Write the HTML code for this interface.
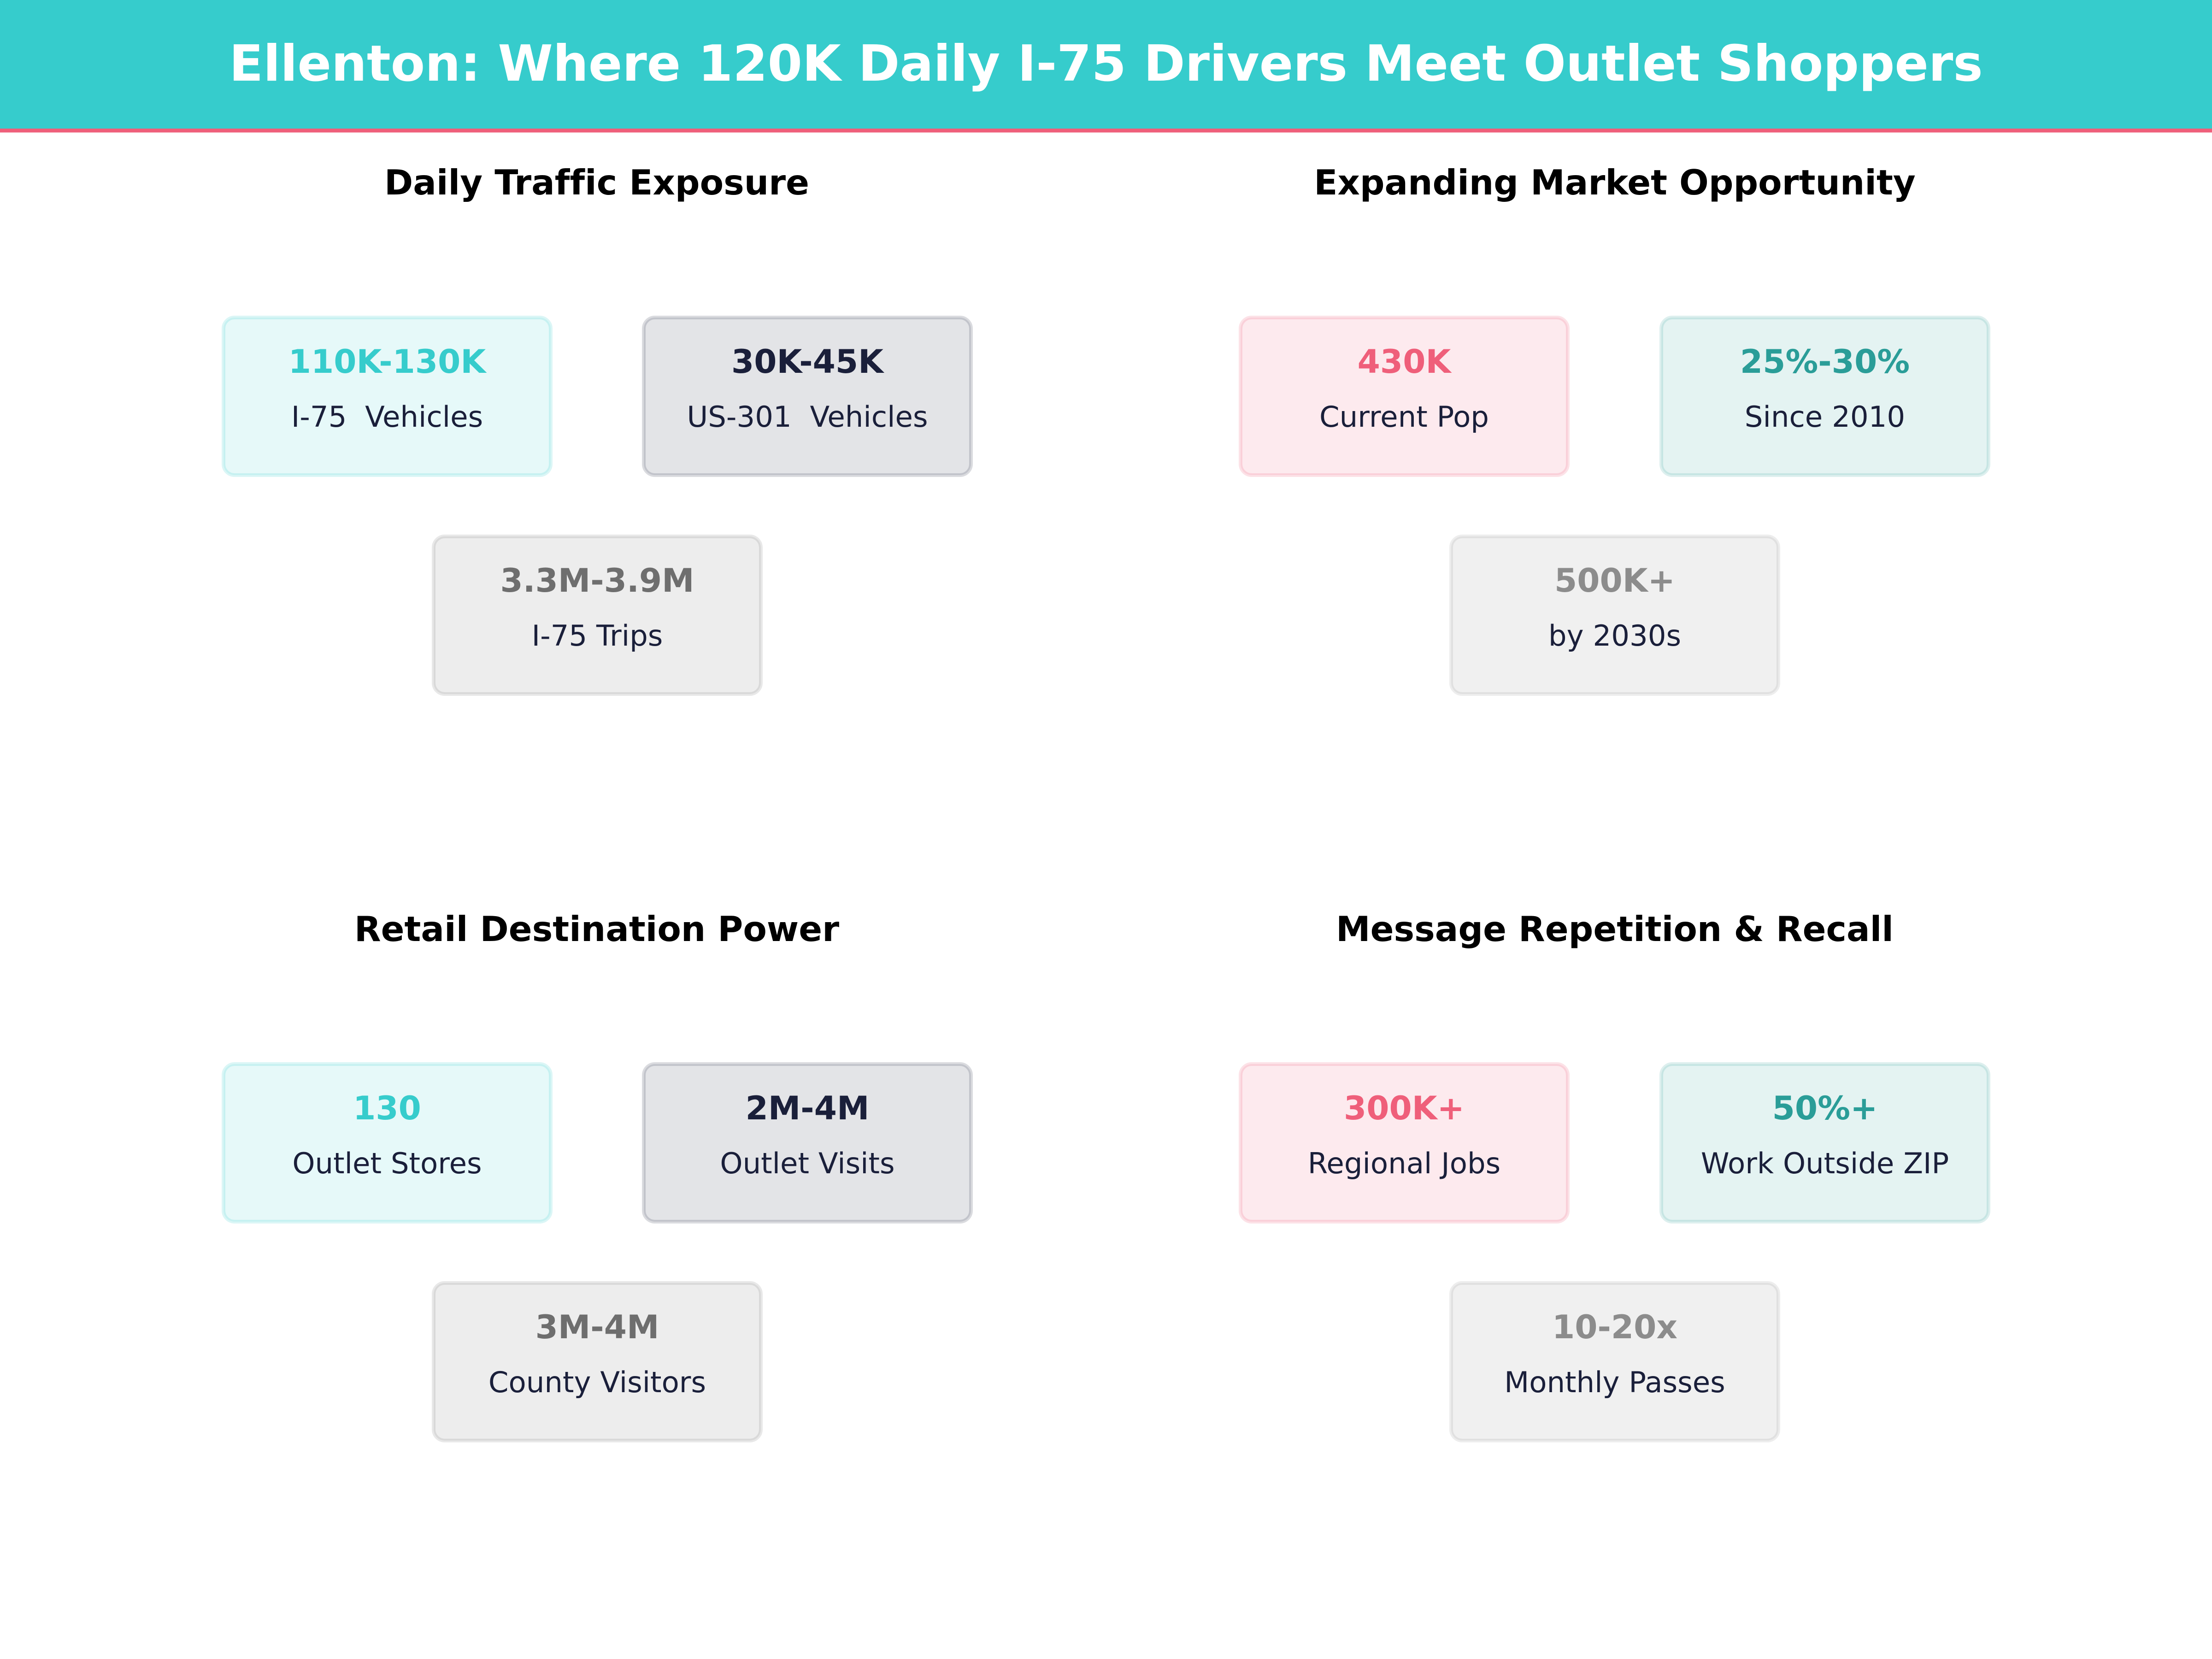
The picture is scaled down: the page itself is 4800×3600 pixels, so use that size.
<!DOCTYPE html>
<html>
<head>
<meta charset="utf-8">
<style>
  html, body { margin:0; padding:0; background:#ffffff; }
  svg { display:block; }
  text { font-family: "DejaVu Sans", "Liberation Sans", sans-serif; white-space: pre; font-variant-ligatures: none; font-feature-settings: "liga" 0, "clig" 0; }
  .t { font-weight:bold; font-size:75px; fill:#000000; }
  .v { font-weight:bold; font-size:70.8px; }
  .l { font-size:62.5px; fill:#1A1F3A; }
</style>
</head>
<body>
<svg width="4800" height="3600" viewBox="0 0 4800 3600" xmlns="http://www.w3.org/2000/svg">
  <rect x="0" y="0" width="4800" height="3600" fill="#ffffff"/>
  <!-- header -->
  <rect x="0" y="0" width="4800" height="279" fill="#36CCCC"/>
  <rect x="0" y="279" width="4800" height="8.5" fill="#EF5F7A"/>
  <text x="2400" y="175" text-anchor="middle" font-weight="bold" font-size="108.3" fill="#ffffff">Ellenton: Where 120K Daily I-75 Drivers Meet Outlet Shoppers</text>

  <!-- panel titles -->
  <text class="t" x="1295" y="422" text-anchor="middle">Daily Traffic Exposure</text>
  <text class="t" x="3504" y="422" text-anchor="middle">Expanding Market Opportunity</text>
  <text class="t" x="1295" y="2042" text-anchor="middle">Retail Destination Power</text>
  <text class="t" x="3504" y="2042" text-anchor="middle">Message Repetition &amp; Recall</text>

  <!-- TOP LEFT -->
  <g>
    <rect x="485" y="689" width="710" height="342" rx="24" ry="24" fill="#36CCCC" fill-opacity="0.125" stroke="#36CCCC" stroke-opacity="0.18" stroke-width="8"/>
    <text class="v" x="840" y="809" text-anchor="middle" fill="#36CCCC">110K-130K</text>
    <text class="l" x="840" y="926" text-anchor="middle">I-75  Vehicles</text>

    <rect x="1397" y="689" width="710" height="342" rx="24" ry="24" fill="#1A1F3A" fill-opacity="0.12" stroke="#1A1F3A" stroke-opacity="0.16" stroke-width="8"/>
    <text class="v" x="1752" y="809" text-anchor="middle" fill="#1A1F3A">30K-45K</text>
    <text class="l" x="1752" y="926" text-anchor="middle">US-301  Vehicles</text>

    <rect x="941" y="1164" width="710" height="342" rx="24" ry="24" fill="#6E6E6E" fill-opacity="0.12" stroke="#6E6E6E" stroke-opacity="0.16" stroke-width="8"/>
    <text class="v" x="1296" y="1284" text-anchor="middle" fill="#6E6E6E">3.3M-3.9M</text>
    <text class="l" x="1296" y="1401" text-anchor="middle">I-75 Trips</text>
  </g>

  <!-- TOP RIGHT -->
  <g>
    <rect x="2692" y="689" width="710" height="342" rx="24" ry="24" fill="#EF5F7A" fill-opacity="0.13" stroke="#EF5F7A" stroke-opacity="0.18" stroke-width="8"/>
    <text class="v" x="3047" y="809" text-anchor="middle" fill="#EF5F7A">430K</text>
    <text class="l" x="3047" y="926" text-anchor="middle">Current Pop</text>

    <rect x="3605" y="689" width="710" height="342" rx="24" ry="24" fill="#2A9D98" fill-opacity="0.125" stroke="#2A9D98" stroke-opacity="0.16" stroke-width="8"/>
    <text class="v" x="3960" y="809" text-anchor="middle" fill="#2A9D98">25%-30%</text>
    <text class="l" x="3960" y="926" text-anchor="middle">Since 2010</text>

    <rect x="3149" y="1164" width="710" height="342" rx="24" ry="24" fill="#8C8C8C" fill-opacity="0.13" stroke="#8C8C8C" stroke-opacity="0.16" stroke-width="8"/>
    <text class="v" x="3504" y="1284" text-anchor="middle" fill="#8C8C8C">500K+</text>
    <text class="l" x="3504" y="1401" text-anchor="middle">by 2030s</text>
  </g>

  <!-- BOTTOM LEFT -->
  <g>
    <rect x="485" y="2309" width="710" height="342" rx="24" ry="24" fill="#36CCCC" fill-opacity="0.125" stroke="#36CCCC" stroke-opacity="0.18" stroke-width="8"/>
    <text class="v" x="840" y="2429" text-anchor="middle" fill="#36CCCC">130</text>
    <text class="l" x="840" y="2546" text-anchor="middle">Outlet Stores</text>

    <rect x="1397" y="2309" width="710" height="342" rx="24" ry="24" fill="#1A1F3A" fill-opacity="0.12" stroke="#1A1F3A" stroke-opacity="0.16" stroke-width="8"/>
    <text class="v" x="1752" y="2429" text-anchor="middle" fill="#1A1F3A">2M-4M</text>
    <text class="l" x="1752" y="2546" text-anchor="middle">Outlet Visits</text>

    <rect x="941" y="2784" width="710" height="342" rx="24" ry="24" fill="#6E6E6E" fill-opacity="0.12" stroke="#6E6E6E" stroke-opacity="0.16" stroke-width="8"/>
    <text class="v" x="1296" y="2904" text-anchor="middle" fill="#6E6E6E">3M-4M</text>
    <text class="l" x="1296" y="3021" text-anchor="middle">County Visitors</text>
  </g>

  <!-- BOTTOM RIGHT -->
  <g>
    <rect x="2692" y="2309" width="710" height="342" rx="24" ry="24" fill="#EF5F7A" fill-opacity="0.13" stroke="#EF5F7A" stroke-opacity="0.18" stroke-width="8"/>
    <text class="v" x="3047" y="2429" text-anchor="middle" fill="#EF5F7A">300K+</text>
    <text class="l" x="3047" y="2546" text-anchor="middle">Regional Jobs</text>

    <rect x="3605" y="2309" width="710" height="342" rx="24" ry="24" fill="#2A9D98" fill-opacity="0.125" stroke="#2A9D98" stroke-opacity="0.16" stroke-width="8"/>
    <text class="v" x="3960" y="2429" text-anchor="middle" fill="#2A9D98">50%+</text>
    <text class="l" x="3960" y="2546" text-anchor="middle">Work Outside ZIP</text>

    <rect x="3149" y="2784" width="710" height="342" rx="24" ry="24" fill="#8C8C8C" fill-opacity="0.13" stroke="#8C8C8C" stroke-opacity="0.16" stroke-width="8"/>
    <text class="v" x="3504" y="2904" text-anchor="middle" fill="#8C8C8C">10-20x</text>
    <text class="l" x="3504" y="3021" text-anchor="middle">Monthly Passes</text>
  </g>
</svg>
</body>
</html>
